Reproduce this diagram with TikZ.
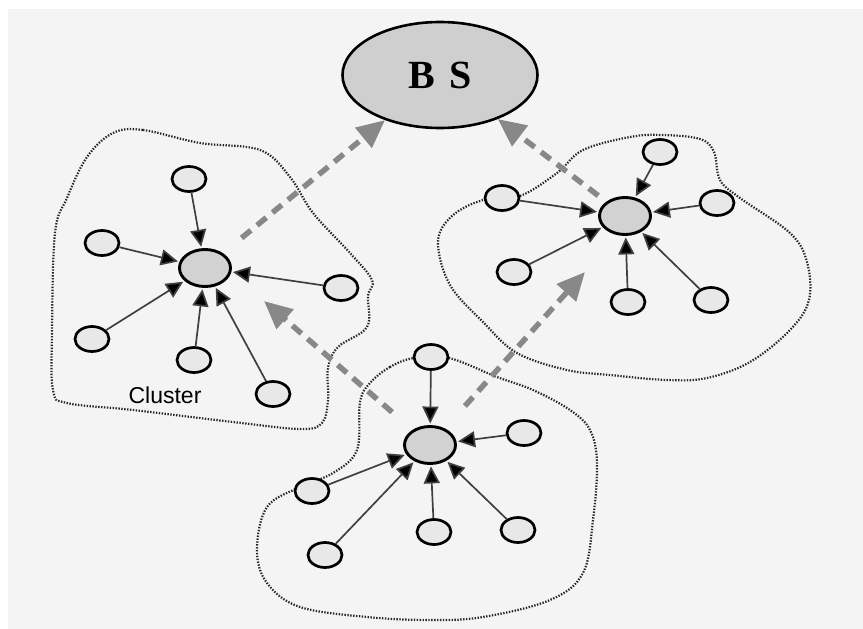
\documentclass[tikz,border=0pt]{standalone}
\usepackage{fontspec}
\setmainfont{Liberation Serif}
\setsansfont{Liberation Sans}
\usetikzlibrary{shapes.geometric,arrows.meta}
\definecolor{paper}{HTML}{F4F4F4}
\definecolor{sensorfill}{HTML}{E8E8E8}
\definecolor{headfill}{HTML}{D2D2D2}
\definecolor{basefill}{HTML}{CFCFCF}
\definecolor{linkgray}{HTML}{888888}
\definecolor{spokegray}{HTML}{404040}
\tikzset{
  sensor/.style={ellipse, draw=black, line width=2.7pt, fill=sensorfill,
    minimum width=34pt, minimum height=25pt, inner sep=0pt},
  head/.style={ellipse, draw=black, line width=2.9pt, fill=headfill,
    minimum width=51pt, minimum height=37pt, inner sep=0pt},
  spoke/.style={draw=spokegray, line width=1.7pt, shorten >=1.5pt,
    -{Triangle[length=17pt,width=16pt,fill=black]}},
  link/.style={draw=linkgray, line width=5.5pt, dash pattern=on 12pt off 8pt,
    -{Triangle[length=28pt,width=25pt,fill=linkgray]}},
  boundary/.style={draw=black!85, line width=2.2pt, dash pattern=on 1.4pt off 1.5pt}
}
\begin{document}
\begin{tikzpicture}[x=1pt,y=-1pt]
  % page and panel
  \useasboundingbox (0,0) rectangle (863,629);
  \fill[white] (0,0) rectangle (863,629);
  \fill[paper] (8,9) rectangle (863,629);

  % cluster outlines
  \draw[boundary] plot[smooth cycle, tension=0.6] coordinates {
    (113,133) (143,130) (200,143) (260,150) (290,177) (313,213) (350,253)
    (372,280) (368,296) (367,327) (338,347) (328,368) (328,400) (322,423)
    (300,429) (233,422) (133,410) (67,403) (53,390) (52,333) (55,233)
    (67,198) (87,157)};
  \draw[boundary] plot[smooth cycle, tension=0.6] coordinates {
    (483,200) (520,196) (557,173) (583,150) (630,137) (663,135) (700,139)
    (714,152) (720,180) (740,198) (790,233) (807,262) (809,300) (790,330)
    (750,362) (707,378) (667,380) (610,375) (567,370) (517,353) (483,322)
    (450,285) (438,242) (452,216)};
  \draw[boundary] plot[smooth cycle, tension=0.6] coordinates {
    (414,358) (390,367) (370,383) (360,402) (357,450) (333,473) (300,487)
    (267,507) (257,550) (267,583) (300,607) (367,617) (430,620) (483,617)
    (550,600) (583,573) (593,520) (597,463) (590,430) (570,410) (533,390)
    (497,377) (449,358)};

  % base station
  \node[ellipse, draw=black, line width=2.6pt, fill=basefill,
        minimum width=195pt, minimum height=106pt, inner sep=0pt] (bs) at (440,75)
        {\fontsize{40pt}{42pt}\selectfont\bfseries\spaceskip=15pt B S};

  % left cluster
  \node[head]   (h1)  at (205,268) {};
  \node[sensor] (a1) at (189,179) {};
  \node[sensor] (a2) at (102,243) {};
  \node[sensor] (a3) at (341,288) {};
  \node[sensor] (a4) at (92,339) {};
  \node[sensor] (a5) at (194,360) {};
  \node[sensor] (a6) at (273,394) {};
  \node[font=\sffamily\fontsize{23pt}{25pt}\selectfont] (lbl) at (165,395) {Cluster};

  % right cluster
  \node[head]   (h2)  at (625,216) {};
  \node[sensor] (b1) at (660,152) {};
  \node[sensor] (b2) at (502,198) {};
  \node[sensor] (b3) at (717,203) {};
  \node[sensor] (b4) at (514,272) {};
  \node[sensor] (b5) at (628,302) {};
  \node[sensor] (b6) at (711,300) {};

  % bottom cluster
  \node[head]   (h3)  at (430,445) {};
  \node[sensor] (c1) at (431,357) {};
  \node[sensor] (c2) at (524,433) {};
  \node[sensor] (c3) at (312,491) {};
  \node[sensor] (c4) at (325,555) {};
  \node[sensor] (c5) at (434,532) {};
  \node[sensor] (c6) at (518,530) {};

  % members report to their cluster head
  \foreach \m in {a1,a2,a3,a4,a5,a6} \draw[spoke] (\m) -- (h1);
  \foreach \m in {b1,b2,b3,b4,b5,b6} \draw[spoke] (\m) -- (h2);
  \foreach \m in {c1,c2,c3,c4,c5,c6} \draw[spoke] (\m) -- (h3);

  % inter-cluster forwarding towards the base station
  \coordinate (toleft)  at (264,301);
  \coordinate (toright) at (585,272);
  \draw[link, shorten <=24pt] (h1) -- (bs);
  \draw[link, shorten <=10pt] (h2) -- (bs);
  \draw[link, shorten <=27pt] (h3) -- (toleft);
  \draw[link, shorten <=30pt] (h3) -- (toright);
\end{tikzpicture}
\end{document}
